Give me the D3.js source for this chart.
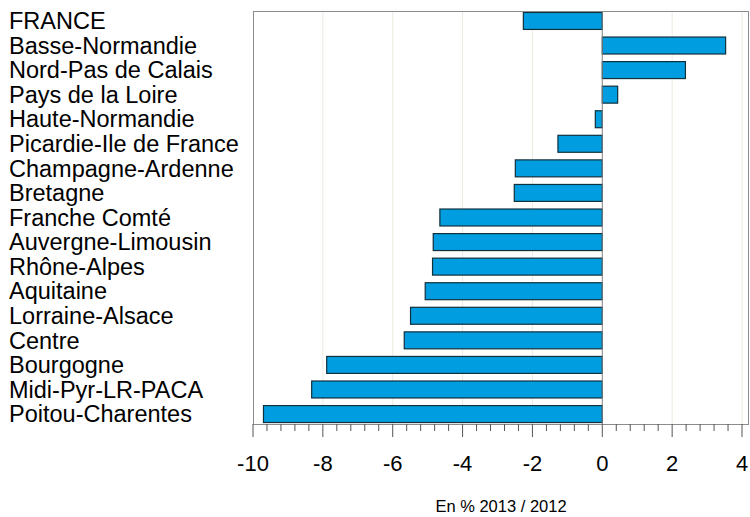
<!DOCTYPE html>
<html>
<head>
<meta charset="utf-8">
<script src="https://cdn.jsdelivr.net/npm/d3@7"></script>
<style>
  body { margin: 0; background: #fff; }
  svg text { font-family: "Liberation Sans", Arial, sans-serif; fill: #000; }
</style>
</head>
<body>
<svg id="chart" width="750" height="517"></svg>
<script>
// Evolution by region, % 2013 / 2012
const regions = [
  'FRANCE', 'Basse-Normandie', 'Nord-Pas de Calais', 'Pays de la Loire',
  'Haute-Normandie', 'Picardie-Ile de France', 'Champagne-Ardenne', 'Bretagne',
  'Franche Comté', 'Auvergne-Limousin', 'Rhône-Alpes', 'Aquitaine',
  'Lorraine-Alsace', 'Centre', 'Bourgogne', 'Midi-Pyr-LR-PACA', 'Poitou-Charentes'
];
const values = [
  -2.26, 3.53, 2.38, 0.44, -0.2, -1.27, -2.49, -2.52,
  -4.65, -4.84, -4.86, -5.07, -5.49, -5.67, -7.89, -8.32, -9.7
];
const majorTicks = [-10, -8, -6, -4, -2, 0, 2, 4];
const xLabel = 'En % 2013 / 2012';

const data = regions.map((r, i) => ({ region: r, value: values[i] }));

const margin = { top: 11, right: 1, bottom: 93, left: 253 };
const width = 750 - margin.left - margin.right;
const height = 517 - margin.top - margin.bottom;

const svg = d3.select('#chart');
const g = svg.append('g')
  .attr('transform', `translate(${margin.left},${margin.top})`);

const x = d3.scaleLinear().domain([-10, 4.2]).range([0, width]);
const y = d3.scaleBand()
  .domain(regions)
  .range([0, height])
  .paddingInner(0.31)
  .paddingOuter(0.06);

// grid lines
g.selectAll('.grid')
  .data(majorTicks.filter(d => d !== 0 && d !== -10))
  .enter()
  .append('line')
  .attr('x1', d => x(d))
  .attr('x2', d => x(d))
  .attr('y1', 0)
  .attr('y2', height)
  .attr('stroke', '#ebebe0')
  .attr('stroke-width', 1);

// bars
g.selectAll('.bar')
  .data(data)
  .enter()
  .append('rect')
  .attr('class', 'bar')
  .attr('x', d => x(Math.min(0, d.value)))
  .attr('y', d => y(d.region))
  .attr('width', d => Math.abs(x(d.value) - x(0)))
  .attr('height', y.bandwidth())
  .attr('fill', '#009ee0')
  .attr('stroke', '#10303c')
  .attr('stroke-width', 1.2);

// zero line
g.append('line')
  .attr('x1', x(0)).attr('x2', x(0))
  .attr('y1', 0).attr('y2', height)
  .attr('stroke', '#808080')
  .attr('stroke-width', 1);

// frame
g.append('rect')
  .attr('x', 0.5).attr('y', 0.5)
  .attr('width', width - 1).attr('height', height)
  .attr('fill', 'none')
  .attr('stroke', '#8c8c8c')
  .attr('stroke-width', 1);

// x axis with minor ticks every 0.4
const axis = g.append('g').attr('transform', `translate(0,${height})`);
const minor = d3.range(-10, 4.21, 0.4).filter(v => !majorTicks.some(m => Math.abs(m - v) < 1e-6));
axis.selectAll('.minor')
  .data(minor)
  .enter()
  .append('line')
  .attr('x1', d => x(d)).attr('x2', d => x(d))
  .attr('y1', 0).attr('y2', 7)
  .attr('stroke', '#555');
axis.selectAll('.major')
  .data(majorTicks)
  .enter()
  .append('line')
  .attr('x1', d => x(d)).attr('x2', d => x(d))
  .attr('y1', 0).attr('y2', 13)
  .attr('stroke', '#555');
axis.selectAll('.tlabel')
  .data(majorTicks)
  .enter()
  .append('text')
  .attr('x', d => x(d))
  .attr('y', 47)
  .attr('text-anchor', 'middle')
  .style('font-size', '22px')
  .text(d => d);

// category labels
svg.selectAll('.cat')
  .data(data)
  .enter()
  .append('text')
  .attr('x', 9)
  .attr('y', d => margin.top + y(d.region) + y.bandwidth() / 2)
  .attr('dy', '0.35em')
  .style('font-size', '23.5px')
  .text(d => d.region);

svg.append('text')
  .attr('x', 501)
  .attr('y', 512)
  .attr('text-anchor', 'middle')
  .style('font-size', '16.5px')
  .text(xLabel);
</script>
</body>
</html>
